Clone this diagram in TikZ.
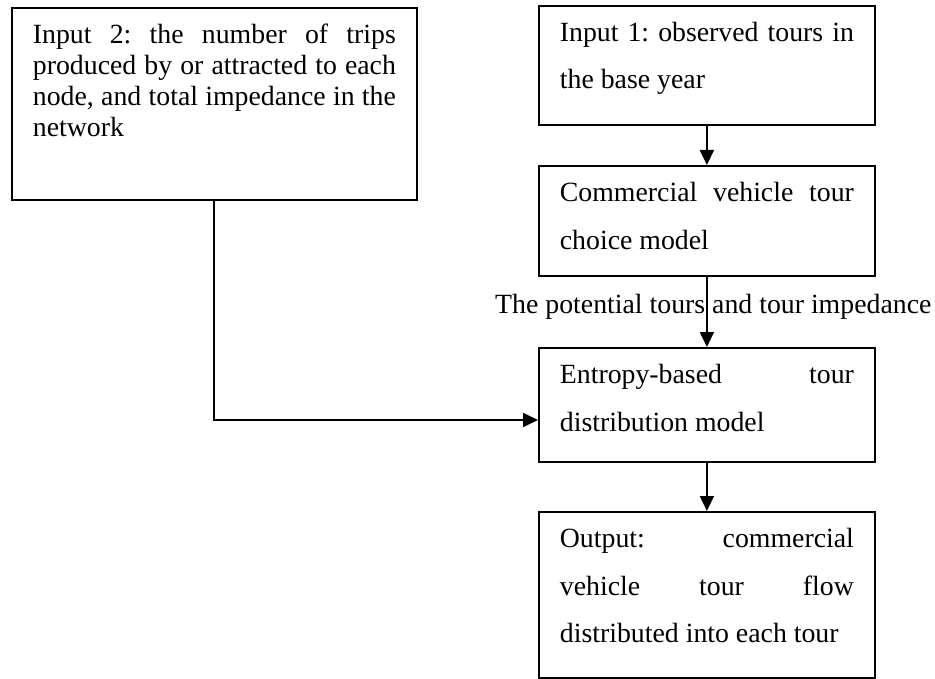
\documentclass[tikz,border=0pt]{standalone}
\usepackage{fontspec}
\setmainfont{Liberation Serif}
\usetikzlibrary{arrows.meta}

% Block of text lines with a fixed width and height, first baseline 36pt below the top
\newcommand\flowlines[4]{\vbox to #2{\hsize=#1\relax\baselineskip=#3\relax\lineskiplimit=-100pt\relax#4\vss}}
% justified line: every inter-word space stretches equally
\newcommand\jline[1]{\hbox to \hsize{\spaceskip=0.25em plus 1fil\relax\xspaceskip=\spaceskip#1}}
% ragged (last) line
\newcommand\lline[1]{\hbox to \hsize{#1\hfil}}
\newcommand\firstline{\rule{0pt}{36pt}}

\tikzset{
  flowbox/.style={draw, line width=1.8pt, rectangle, inner xsep=21pt, inner ysep=0pt, anchor=north west},
  flowarrow/.style={line width=1.8pt, -{Triangle[length=15pt,width=14pt]}},
  plainline/.style={line width=1.8pt}
}

\begin{document}
\begin{tikzpicture}[x=1pt, y=-1pt, font=\fontsize{27.8}{31}\selectfont]
\useasboundingbox (0,0) rectangle (935,679);

% left input box
\node[flowbox] (in2) at (11,7) {\flowlines{363pt}{192pt}{31pt}{%
  \jline{\firstline Input 2: the number of trips}%
  \jline{produced by or attracted to each}%
  \jline{node, and total impedance in the}%
  \lline{network}}};

% right column
\node[flowbox] (in1) at (538,5) {\flowlines{294pt}{119pt}{47pt}{%
  \jline{\firstline Input 1: observed tours in}%
  \lline{the base year}}};

\node[flowbox] (com) at (538,165) {\flowlines{294pt}{110pt}{47.5pt}{%
  \jline{\firstline Commercial vehicle tour}%
  \lline{choice model}}};

\node[flowbox] (ent) at (538,347) {\flowlines{294pt}{114pt}{47.5pt}{%
  \jline{\firstline Entropy-based tour}%
  \lline{distribution model}}};

\node[flowbox] (out) at (538,511) {\flowlines{294pt}{166pt}{47.5pt}{%
  \jline{\firstline Output: commercial}%
  \jline{vehicle tour flow}%
  \lline{distributed into each tour}}};

% label on the middle connector
\node[anchor=base west, inner sep=0pt] (lbl) at (495,313) {The potential tours and tour impedance};

% connectors
\draw[flowarrow] (in1.south) -- (com.north);
\draw[flowarrow] (com.south) -- (ent.north);
\draw[flowarrow] (ent.south) -- (out.north);

\coordinate (bend) at (214,420);
\draw[flowarrow] (in2.south -| bend) -- (bend) -- (bend -| ent.west);

\end{tikzpicture}
\end{document}
